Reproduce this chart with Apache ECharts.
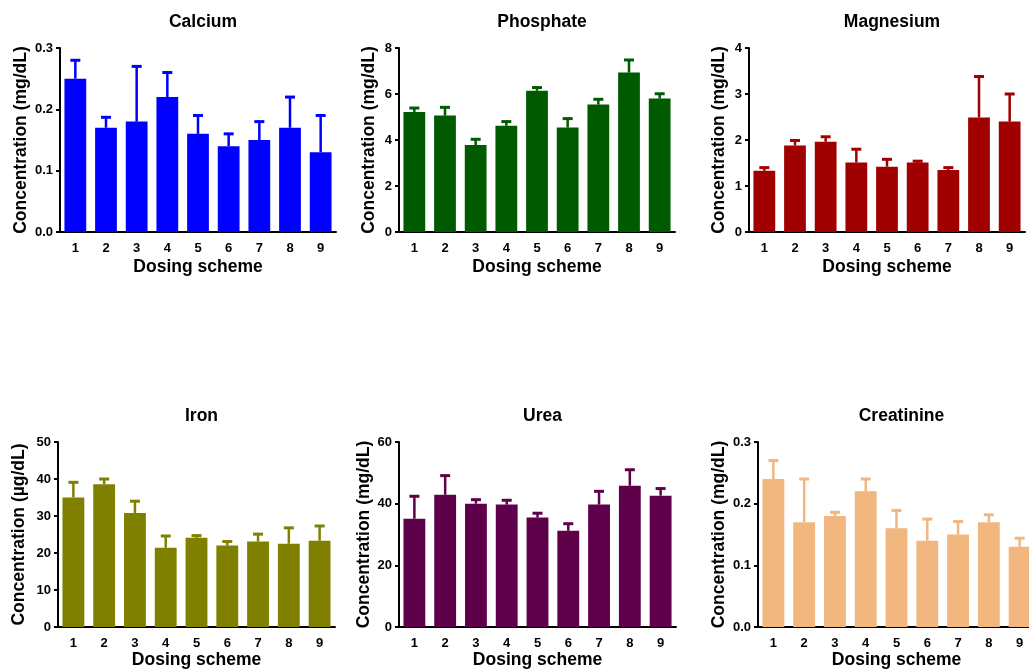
<!DOCTYPE html>
<html>
<head>
<meta charset="utf-8">
<script src="https://cdn.jsdelivr.net/npm/echarts@6/dist/echarts.min.js"></script>
<style>
  html, body { margin: 0; padding: 0; background: #fff; overflow: hidden; }
  #chart { width: 1040px; height: 670px; }
</style>
</head>
<body>
<div id="chart"></div>
<script>
// Dosing schemes on the x axis
const categories = ['1', '2', '3', '4', '5', '6', '7', '8', '9'];

// Mean concentration and upper error (SD) per dosing scheme
const calciumMean = [0.25, 0.17, 0.18, 0.22, 0.16, 0.14, 0.15, 0.17, 0.13];
const calciumErr  = [0.03, 0.017, 0.09, 0.04, 0.03, 0.02, 0.03, 0.05, 0.06];

const phosphateMean = [5.22, 5.06, 3.78, 4.62, 6.14, 4.54, 5.54, 6.93, 5.80];
const phosphateErr  = [0.17, 0.36, 0.25, 0.18, 0.14, 0.39, 0.23, 0.55, 0.21];

const magnesiumMean = [1.33, 1.88, 1.96, 1.51, 1.42, 1.51, 1.35, 2.49, 2.40];
const magnesiumErr  = [0.07, 0.11, 0.11, 0.29, 0.16, 0.03, 0.05, 0.89, 0.60];

const ironMean = [35.0, 38.6, 30.8, 21.4, 24.1, 22.0, 23.1, 22.5, 23.3];
const ironErr  = [4.1, 1.4, 3.2, 3.2, 0.6, 1.1, 2.0, 4.3, 4.0];

const ureaMean = [35.1, 42.9, 40.0, 39.7, 35.5, 31.2, 39.7, 45.8, 42.6];
const ureaErr  = [7.3, 6.2, 1.3, 1.4, 1.4, 2.3, 4.3, 5.2, 2.3];

const creatinineMean = [0.24, 0.17, 0.18, 0.22, 0.16, 0.14, 0.15, 0.17, 0.13];
const creatinineErr  = [0.03, 0.07, 0.006, 0.02, 0.029, 0.035, 0.021, 0.012, 0.014];

// Y axis ranges / tick steps
const yMax      = [0.3, 8, 4, 50, 60, 0.3];
const yInterval = [0.1, 2, 1, 10, 20, 0.1];

const FONT = '"Liberation Sans", Arial, Helvetica, sans-serif';

const panels = [
  { title: 'Calcium',    unit: 'Concentration (mg/dL)', mean: calciumMean,    err: calciumErr,    color: '#0000FF', decimals: 1,
    grid: { left: 60,  top: 48,  width: 276, height: 184 }, nameGap: 30, xNameGap: 26 },
  { title: 'Phosphate',  unit: 'Concentration (mg/dL)', mean: phosphateMean,  err: phosphateErr,  color: '#005A00', decimals: 0,
    grid: { left: 399, top: 48,  width: 276, height: 184 }, nameGap: 21, xNameGap: 26 },
  { title: 'Magnesium',  unit: 'Concentration (mg/dL)', mean: magnesiumMean,  err: magnesiumErr,  color: '#A00000', decimals: 0,
    grid: { left: 749, top: 48,  width: 276, height: 184 }, nameGap: 21, xNameGap: 26 },
  { title: 'Iron',       unit: 'Concentration (µg/dL)', mean: ironMean,       err: ironErr,       color: '#808000', decimals: 0,
    grid: { left: 58,  top: 442, width: 277, height: 185 }, nameGap: 30, xNameGap: 24 },
  { title: 'Urea',       unit: 'Concentration (mg/dL)', mean: ureaMean,       err: ureaErr,       color: '#5F004B', decimals: 0,
    grid: { left: 399, top: 442, width: 277, height: 185 }, nameGap: 21, xNameGap: 24 },
  { title: 'Creatinine', unit: 'Concentration (mg/dL)', mean: creatinineMean, err: creatinineErr, color: '#F2B77F', decimals: 1,
    grid: { left: 758, top: 442, width: 277, height: 185 }, nameGap: 30, xNameGap: 24 }
];

// Upward-only error bar with a short cap, drawn from the bar top
function makeErrorRenderer(color) {
  return function (params, api) {
    const idx = api.value(0);
    const m = api.value(1);
    const e = api.value(2);
    const base = api.coord([idx, m]);
    const top = api.coord([idx, m + e]);
    const half = 5;
    return {
      type: 'group',
      children: [
        { type: 'line', shape: { x1: base[0], y1: base[1], x2: top[0], y2: top[1] },
          style: { stroke: color, lineWidth: 2.5 } },
        { type: 'line', shape: { x1: top[0] - half, y1: top[1], x2: top[0] + half, y2: top[1] },
          style: { stroke: color, lineWidth: 3 } }
      ]
    };
  };
}

const titles = [], grids = [], xAxes = [], yAxes = [], series = [];

panels.forEach((p, i) => {
  grids.push(Object.assign({ containLabel: false }, p.grid));

  titles.push({
    text: p.title,
    left: p.grid.left + p.grid.width / 2,
    top: p.grid.top - 40,
    textAlign: 'center',
    textStyle: { fontFamily: FONT, fontWeight: 'bold', fontSize: 17.5, color: '#000' }
  });

  xAxes.push({
    type: 'category',
    gridIndex: i,
    data: categories,
    name: 'Dosing scheme',
    nameLocation: 'middle',
    nameGap: p.xNameGap,
    nameTextStyle: { fontFamily: FONT, fontWeight: 'bold', fontSize: 17.5, color: '#000' },
    axisLine: { lineStyle: { color: '#000', width: 2 } },
    axisTick: { alignWithLabel: true, length: 4, lineStyle: { color: '#000', width: 2 } },
    axisLabel: { fontFamily: FONT, fontWeight: 'bold', fontSize: 13, color: '#000', margin: 10 }
  });

  yAxes.push({
    type: 'value',
    gridIndex: i,
    min: 0,
    max: yMax[i],
    interval: yInterval[i],
    name: p.unit,
    nameLocation: 'middle',
    nameRotate: 90,
    nameGap: p.nameGap,
    nameTextStyle: { fontFamily: FONT, fontWeight: 'bold', fontSize: 17.5, color: '#000' },
    axisLine: { show: true, lineStyle: { color: '#000', width: 2 } },
    axisTick: { show: true, length: 4, lineStyle: { color: '#000', width: 2 } },
    splitLine: { show: false },
    axisLabel: {
      fontFamily: FONT, fontWeight: 'bold', fontSize: 13, color: '#000', margin: 7,
      formatter: (v) => v.toFixed(p.decimals)
    }
  });

  series.push({
    type: 'bar',
    xAxisIndex: i,
    yAxisIndex: i,
    data: p.mean,
    barWidth: '71%',
    itemStyle: { color: p.color },
    silent: true
  });

  series.push({
    type: 'custom',
    xAxisIndex: i,
    yAxisIndex: i,
    data: p.mean.map((m, k) => [k, m, p.err[k]]),
    renderItem: makeErrorRenderer(p.color),
    z: 3,
    silent: true
  });
});

const chart = echarts.init(document.getElementById('chart'), null, { renderer: 'canvas' });
chart.setOption({
  animation: false,
  backgroundColor: '#fff',
  title: titles,
  grid: grids,
  xAxis: xAxes,
  yAxis: yAxes,
  series: series
});
</script>
</body>
</html>
